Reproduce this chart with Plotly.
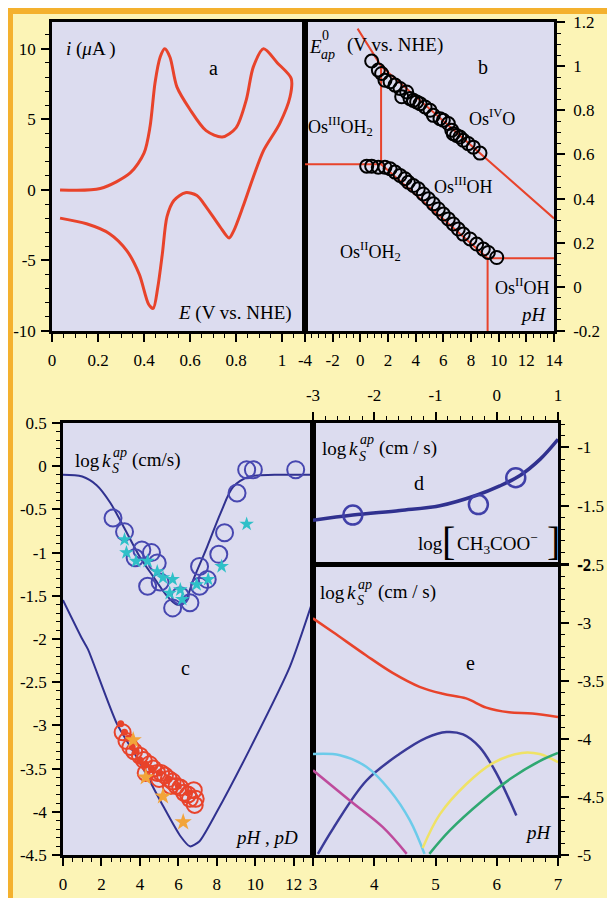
import plotly.graph_objects as go

# page has an 8px body margin: figure sized to fill the rest of the window
OFF = 8
W, H = 607, 890

# ---------------- data ----------------
# panel a: cyclic voltammogram
cv_E = [0.035, 0.21, 0.34, 0.40, 0.426, 0.448, 0.47, 0.49, 0.513, 0.543, 0.60, 0.67, 0.74, 0.80, 0.845, 0.875, 0.92, 0.98, 1.04,
        1.035, 0.99, 0.92, 0.875, 0.83, 0.79, 0.77, 0.73, 0.67, 0.63, 0.58, 0.53, 0.50, 0.48, 0.46, 0.44, 0.42, 0.38, 0.325, 0.25, 0.15, 0.035]
cv_i = [0.0, 0.1, 1.2, 2.6, 4.45, 7.6, 9.4, 10.0, 9.4, 7.3, 5.7, 4.2, 3.75, 4.4, 6.4, 8.7, 10.0, 9.0, 7.9,
        6.6, 4.7, 2.8, 0.9, -1.2, -2.9, -3.4, -2.6, -1.2, -0.4, -0.2, -0.75, -1.9, -4.5, -6.9, -8.4, -8.1, -6.0, -4.3, -3.1, -2.4, -2.0]

# panel b: Pourbaix diagram
b_up_pH = [0.82, 1.30, 1.54, 1.78, 2.15, 2.51, 2.87, 2.99, 3.35, 3.59, 3.83, 4.07, 4.32, 4.68, 5.04, 5.28, 5.76, 6.0, 6.36,
           6.61, 6.72, 6.96, 7.2, 7.44, 7.8, 8.17, 8.65]
b_up_E = [1.023, 0.982, 0.967, 0.936, 0.929, 0.914, 0.899, 0.861, 0.883, 0.853, 0.845, 0.838, 0.830, 0.815, 0.80, 0.777, 0.762,
          0.755, 0.74, 0.71, 0.694, 0.686, 0.679, 0.664, 0.649, 0.633, 0.606]
b_lo_pH = [0.46, 0.82, 1.30, 1.78, 2.15, 2.51, 2.87, 3.23, 3.47, 3.83, 4.19, 4.55, 4.92, 5.28, 5.64, 6.0, 6.36, 6.72, 7.08,
           7.44, 7.93, 8.41, 8.89, 9.25, 9.86]
b_lo_E = [0.547, 0.547, 0.542, 0.542, 0.535, 0.52, 0.505, 0.49, 0.474, 0.459, 0.444, 0.421, 0.399, 0.376, 0.353, 0.33, 0.308,
          0.285, 0.262, 0.239, 0.217, 0.194, 0.171, 0.156, 0.133]
b_line_pH = [-0.2, 1.5, 14, None, 1.5, 1.5, None, -4, 1.5, 9.2, 14, None, 9.2, 9.2]
b_line_E = [1.17, 1.0, 0.31, None, 1.0, 0.555, None, 0.555, 0.555, 0.13, 0.13, None, 0.13, -0.2]

# panel c
c_fit1_pH = [0, 1, 1.75, 2.45, 3.15, 4.0, 4.7, 5.4, 5.9, 6.3, 6.8, 7.5, 8.2, 8.85, 9.7, 11, 13]
c_fit1_k = [-0.1, -0.12, -0.22, -0.42, -0.7, -1.05, -1.28, -1.5, -1.6, -1.58, -1.3, -0.93, -0.54, -0.24, -0.12, -0.1, -0.1]
c_fit2_pH = [0, 1, 1.3, 2.8, 4.0, 5.2, 6.1, 6.6, 7.1, 8.0, 9.7, 11.8, 13]
c_fit2_k = [-1.55, -2.0, -2.12, -2.98, -3.43, -3.93, -4.28, -4.4, -4.34, -4.0, -3.28, -2.32, -1.55]
c_blue_pH = [2.6, 3.2, 3.75, 4.1, 4.6, 4.9, 4.4, 5.05, 5.7, 6.1, 6.6, 7.1, 7.5, 7.1, 8.1, 8.4, 9.05, 9.55, 9.9, 12.1]
c_blue_k = [-0.60, -0.76, -1.06, -0.97, -1.0, -1.12, -1.39, -1.34, -1.64, -1.50, -1.58, -1.16, -1.31, -1.39, -1.02, -0.77,
            -0.31, -0.04, -0.04, -0.04]
c_cyan_pH = [3.2, 3.3, 3.8, 4.4, 4.9, 5.2, 5.55, 5.7, 6.1, 6.2, 6.95, 7.55, 8.25, 9.55]
c_cyan_k = [-0.85, -1.0, -1.1, -1.1, -1.22, -1.29, -1.47, -1.31, -1.43, -1.54, -1.37, -1.31, -1.16, -0.67]
c_red_pH = [3.1, 3.3, 3.5, 3.7, 4.0, 4.2, 4.5, 4.7, 4.9, 5.1, 5.3, 5.5, 5.7, 5.9, 6.1, 6.3, 6.5, 6.6, 6.8, 6.9, 6.85, 4.3, 5.0, 5.6]
c_red_k = [-3.08, -3.18, -3.25, -3.3, -3.35, -3.4, -3.45, -3.5, -3.55, -3.55, -3.58, -3.62, -3.65, -3.7, -3.72, -3.78, -3.8,
           -3.85, -3.75, -3.85, -3.92, -3.55, -3.62, -3.7]
c_dot_pH = [3.0, 3.2, 3.4, 3.6, 3.8, 4.0, 4.3, 4.6, 5.0, 5.5, 6.0, 6.5]
c_dot_k = [-2.98, -3.08, -3.15, -3.25, -3.3, -3.4, -3.45, -3.5, -3.55, -3.62, -3.7, -3.78]
c_orange_pH = [3.65, 4.3, 5.2, 6.25]
c_orange_k = [-3.17, -3.6, -3.82, -4.12]

# panel d
d_fit_x = [-3.0, -2.35, -1.58, -0.93, -0.33, 0.05, 0.38, 0.71, 1.0]
d_fit_k = [-1.625, -1.58, -1.54, -1.5, -1.41, -1.33, -1.24, -1.10, -0.93]
d_pts_x = [-2.35, -0.3, 0.31]
d_pts_k = [-1.58, -1.49, -1.26]

# panel e
e_red_pH = [3.0, 3.33, 3.87, 4.3, 4.74, 5.12, 5.5, 5.83, 6.2, 6.58, 7.0]
e_red_k = [-2.96, -3.08, -3.28, -3.43, -3.55, -3.61, -3.65, -3.73, -3.77, -3.78, -3.81]
e_navy_pH = [3.08, 3.33, 3.87, 4.41, 4.85, 5.18, 5.45, 5.72, 6.0, 6.32]
e_navy_k = [-4.99, -4.77, -4.36, -4.13, -3.99, -3.94, -3.96, -4.07, -4.3, -4.66]
e_cyan_pH = [3.0, 3.44, 3.87, 4.25, 4.58, 4.82]
e_cyan_k = [-4.13, -4.14, -4.24, -4.44, -4.7, -4.99]
e_mag_pH = [3.0, 3.6, 4.14, 4.53]
e_mag_k = [-4.27, -4.53, -4.76, -4.99]
e_yel_pH = [4.79, 5.07, 5.5, 5.93, 6.41, 6.7, 7.0]
e_yel_k = [-4.94, -4.65, -4.39, -4.21, -4.12, -4.13, -4.2]
e_grn_pH = [4.9, 5.23, 5.77, 6.26, 6.7, 7.0]
e_grn_k = [-4.99, -4.79, -4.53, -4.33, -4.19, -4.12]

# tick labels
a_xt = [0, 0.2, 0.4, 0.6, 0.8, 1]
a_xl = ["0", "0.2", "0.4", "0.6", "0.8", "1"]
a_yt = [-10, -5, 0, 5, 10]
a_yl = ["-10", "-5", "0", "5", "10"]
b_xt = [-4, -2, 0, 2, 4, 6, 8, 10, 12, 14]
b_xl = ["-4", "-2", "0", "2", "4", "6", "8", "10", "12", "14"]
b_yt = [-0.2, 0, 0.2, 0.4, 0.6, 0.8, 1, 1.2]
b_yl = ["-0.2", "0", "0.2", "0.4", "0.6", "0.8", "1", "1.2"]
c_xt = [0, 2, 4, 6, 8, 10, 12]
c_xl = ["0", "2", "4", "6", "8", "10", "12"]
c_yt = [-4.5, -4, -3.5, -3, -2.5, -2, -1.5, -1, -0.5, 0, 0.5]
c_yl = ["-4.5", "-4", "-3.5", "-3", "-2.5", "-2", "-1.5", "-1", "-0.5", "0", "0.5"]
d_xt = [-3, -2, -1, 0, 1]
d_xl = ["-3", "-2", "-1", "0", "1"]
d_yt = [-2, -1.5, -1]
d_yl = ["-2", "-1.5", "-1"]
e_xt = [3, 4, 5, 6, 7]
e_xl = ["3", "4", "5", "6", "7"]
e_yt = [-5, -4.5, -4, -3.5, -3, -2.5]
e_yl = ["-5", "-4.5", "-4", "-3.5", "-3", "-2.5"]

# ---------------- styling ----------------
FONT = "Liberation Serif"
YELLOW = "#FCF4B6"
LAV = "#DCDCEF"
RED = "#E8432B"
NAVY = "#30318F"
ORANGE = "#F4B12E"


def px(x, y):
    # screen pixel -> paper fraction
    return (x - OFF) / W, 1 - (y - OFF) / H


def dx(a, b):
    return [(a - OFF) / W, (b - OFF) / W]


def dy(top, bot):
    return [1 - (bot - OFF) / H, 1 - (top - OFF) / H]


fig = go.Figure()
add = fig.add_trace

# a
add(go.Scatter(x=cv_E, y=cv_i, mode="lines", line=dict(color=RED, width=3, shape="spline", smoothing=0.8),
               xaxis="x", yaxis="y"))
# b
add(go.Scatter(x=b_line_pH, y=b_line_E, mode="lines", line=dict(color=RED, width=2), xaxis="x2", yaxis="y2"))
for xs, ys in [(b_up_pH, b_up_E), (b_lo_pH, b_lo_E)]:
    add(go.Scatter(x=xs, y=ys, mode="markers", marker=dict(symbol="circle-open", size=13, color="black",
                                                           line=dict(width=2, color="black")),
                   xaxis="x2", yaxis="y2"))
# c
add(go.Scatter(x=c_fit1_pH, y=c_fit1_k, mode="lines", line=dict(color=NAVY, width=2, shape="spline", smoothing=0.9),
               xaxis="x3", yaxis="y3"))
add(go.Scatter(x=c_fit2_pH, y=c_fit2_k, mode="lines", line=dict(color=NAVY, width=2, shape="spline", smoothing=0.6),
               xaxis="x3", yaxis="y3"))
add(go.Scatter(x=c_blue_pH, y=c_blue_k, mode="markers",
               marker=dict(symbol="circle-open", size=17, line=dict(width=2, color="#4747B0"), color="#4747B0"),
               xaxis="x3", yaxis="y3"))
add(go.Scatter(x=c_cyan_pH, y=c_cyan_k, mode="markers", marker=dict(symbol="star", size=11, color="#2FC0C8"),
               xaxis="x3", yaxis="y3"))
add(go.Scatter(x=c_dot_pH, y=c_dot_k, mode="markers", marker=dict(symbol="circle", size=7, color=RED),
               xaxis="x3", yaxis="y3"))
add(go.Scatter(x=c_red_pH, y=c_red_k, mode="markers",
               marker=dict(symbol="circle-open", size=16, line=dict(width=2, color=RED), color=RED),
               xaxis="x3", yaxis="y3"))
add(go.Scatter(x=c_orange_pH, y=c_orange_k, mode="markers", marker=dict(symbol="star", size=13, color="#F2A43A"),
               xaxis="x3", yaxis="y3"))
# d
add(go.Scatter(x=d_fit_x, y=d_fit_k, mode="lines", line=dict(color=NAVY, width=3.5, shape="spline"),
               xaxis="x4", yaxis="y4"))
add(go.Scatter(x=d_pts_x, y=d_pts_k, mode="markers",
               marker=dict(symbol="circle-open", size=19, line=dict(width=2.5, color="#4040A8"), color="#4040A8"),
               xaxis="x4", yaxis="y4"))
# e
for xs, ys, col in [(e_red_pH, e_red_k, RED), (e_navy_pH, e_navy_k, "#3A3A98"), (e_cyan_pH, e_cyan_k, "#6CCBEA"),
                    (e_mag_pH, e_mag_k, "#BE4B9C"), (e_yel_pH, e_yel_k, "#EFE266"), (e_grn_pH, e_grn_k, "#2FA872")]:
    add(go.Scatter(x=xs, y=ys, mode="lines", line=dict(color=col, width=2.5, shape="spline"),
                   xaxis="x5", yaxis="y5"))


def axis(dom, rng, tv, tt, minor, side, anchor, standoff=2):
    return dict(domain=dom, range=rng, tickvals=tv, ticktext=tt, side=side, anchor=anchor,
                ticks="outside", ticklen=8, tickwidth=1.5, tickcolor="black",
                minor=dict(dtick=minor, ticks="outside", ticklen=4, tickwidth=1, tickcolor="black", showgrid=False),
                showline=True, linecolor="black", linewidth=2.5, mirror=True, automargin=False,
                showgrid=False, zeroline=False, ticklabelstandoff=standoff,
                tickfont=dict(family=FONT, size=17, color="black"), fixedrange=True)


fig.update_layout(
    xaxis=axis(dx(52, 305), [0, 1.1], a_xt, a_xl, 0.05, "bottom", "y", standoff=4),
    yaxis=axis(dy(22, 331), [-10, 11.9], a_yt, a_yl, 1, "left", "x"),
    xaxis2=axis(dx(305, 554), [-4, 14], b_xt, b_xl, 0.5, "bottom", "y2", standoff=4),
    yaxis2=axis(dy(22, 331), [-0.2, 1.2], b_yt, b_yl, 0.05, "right", "x2", standoff=5),
    xaxis3=axis(dx(63, 313), [0, 13], c_xt, c_xl, 0.5, "bottom", "y3", standoff=4),
    yaxis3=axis(dy(423, 855), [-4.5, 0.5], c_yt, c_yl, 0.1, "left", "x3"),
    xaxis4=axis(dx(313, 558), [-3, 1], d_xt, d_xl, 0.2, "top", "y4", standoff=4),
    yaxis4=axis(dy(423, 564), [-2.0, -0.79], d_yt, d_yl, 0.1, "right", "x4", standoff=5),
    xaxis5=axis(dx(313, 558), [3, 7], e_xt, e_xl, 0.2, "bottom", "y5", standoff=4),
    yaxis5=axis(dy(565, 855), [-5, -2.5], e_yt, e_yl, 0.1, "right", "x5", standoff=5),
)

fig.update_layout(
    width=W, height=H, margin=dict(l=0, r=0, t=0, b=0, pad=0, autoexpand=False), showlegend=False,
    paper_bgcolor=YELLOW, plot_bgcolor=LAV,
    font=dict(family=FONT, color="black"),
)

# orange frame strips along the top and left edges of the figure
shapes = [
    dict(type="rect", xref="paper", yref="paper", x0=0, x1=1, y0=1 - 6 / H, y1=1,
         fillcolor=ORANGE, line=dict(width=0), layer="below"),
    dict(type="rect", xref="paper", yref="paper", x0=0, x1=5 / W, y0=0, y1=1,
         fillcolor=ORANGE, line=dict(width=0), layer="below"),
]
fig.update_layout(shapes=shapes)

ann = []


def T(text, x, y, size=19, anchor="left"):
    ax_, ay_ = px(x, y)
    ann.append(dict(text=text, x=ax_, y=ay_, xref="paper", yref="paper", showarrow=False, xanchor=anchor,
                    yanchor="middle", font=dict(family=FONT, size=size, color="black")))


def logk(x, y):
    T("log", x, y)
    T("<i>k</i>", x + 27, y)
    T("<i>ap</i>", x + 38, y - 8, 14)
    T("<i>S</i>", x + 37, y + 8, 14)


# a
T("<i>i</i> (<i>μ</i>A )", 64, 49)
T("a", 213, 68, 20, "center")
T("<i>E</i> (V vs. NHE)", 176, 313)
# b
T("<i>E</i>", 307, 46)
T("0", 320, 35, 14)
T("<i>ap</i>", 319, 55, 14)
T("(V vs. NHE)", 345, 45)
T("b", 483, 67, 20, "center")
T("Os<sup>IV</sup>O", 467, 118, 18)
T("Os<sup>III</sup>OH<sub>2</sub>", 306, 127, 18)
T("Os<sup>III</sup>OH", 432, 185, 18)
T("Os<sup>II</sup>OH<sub>2</sub>", 338, 252, 18)
T("Os<sup>II</sup>OH", 493, 287, 18)
T("<i>pH</i>", 518, 314)
# c
logk(73, 460)
T("(cm/s)", 130, 460)
T("c", 185, 668, 20, "center")
T("<i>pH</i> , <i>pD</i>", 233, 837)
# d
logk(320, 448)
T("(cm / s)", 377, 448)
T("d", 419, 483, 20, "center")
T("log", 416, 543)
T("[", 440, 541, 40)
T("CH<sub>3</sub>COO<sup>−</sup>", 455, 543)
T("]", 545, 541, 40)
# e
logk(318, 592)
T("(cm / s)", 376, 592)
T("e", 470, 663, 20, "center")
T("<i>pH</i>", 523, 832)

fig.update_layout(annotations=ann)

fig.write_html("out.html")
